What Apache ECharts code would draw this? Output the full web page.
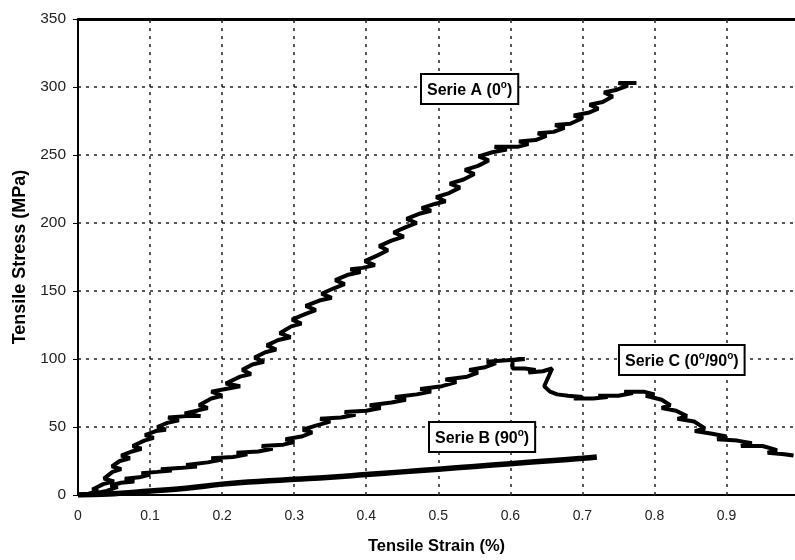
<!DOCTYPE html>
<html style="height: 100%">
<head>
    <meta charset="utf-8">
    <script type="text/javascript" src="https://cdn.jsdelivr.net/npm/echarts@6/dist/echarts.min.js"></script>
</head>
<body style="height: 100%; margin: 0; background: #fff">
<div id="container" style="height: 560px;width: 795px;position: absolute;top: 0;left: 0;"></div>
<script type="text/javascript">
    // strain (%), stress (MPa)
    var serieA = [[0,0],[0.015,1],[0.028,3],[0.02,4],[0.035,8],[0.05,10],[0.036,12],[0.048,17],[0.06,19],[0.047,21],
        [0.058,25],[0.072,27],[0.06,29],[0.075,32],[0.088,34],[0.076,36],[0.092,40],[0.105,42],[0.093,44],[0.108,47],
        [0.122,48],[0.11,50],[0.124,53],[0.14,55],[0.125,57],[0.15,58],[0.17,58],[0.148,60],[0.165,62],[0.18,64],
        [0.168,66],[0.185,71],[0.2,73],[0.185,76],[0.205,78],[0.225,80],[0.205,82],[0.225,87],[0.24,89],[0.228,92],
        [0.242,96],[0.258,98],[0.245,101],[0.26,105],[0.275,107],[0.262,110],[0.278,114],[0.295,116],[0.28,119],[0.296,124],
        [0.31,126],[0.297,129],[0.315,133],[0.33,136],[0.316,139],[0.335,143],[0.352,145],[0.338,148],[0.355,152],[0.37,155],
        [0.357,158],[0.375,162],[0.392,164],[0.378,166],[0.395,167],[0.412,169],[0.398,172],[0.415,176],[0.43,180],[0.418,183],
        [0.435,187],[0.452,190],[0.438,193],[0.455,197],[0.47,200],[0.456,203],[0.475,207],[0.49,209],[0.477,211],[0.495,214],
        [0.51,216],[0.497,219],[0.515,222],[0.53,226],[0.516,229],[0.535,232],[0.55,236],[0.537,239],[0.555,242],[0.57,246],
        [0.556,249],[0.575,252],[0.595,254],[0.578,256],[0.61,256],[0.625,258],[0.612,260],[0.635,261],[0.65,264],[0.638,266],
        [0.66,267],[0.675,270],[0.662,272],[0.683,273],[0.7,277],[0.688,279],[0.708,281],[0.722,284],[0.71,287],[0.728,289],
        [0.742,293],[0.73,296],[0.748,298],[0.763,301],[0.75,303],[0.775,303]];
    var serieB = [[0,0],[0.05,1],[0.1,3],[0.15,5],[0.2,8],[0.25,10],[0.3,11.5],[0.35,13],[0.4,15],[0.45,17],
        [0.5,19],[0.55,21],[0.6,23],[0.65,25],[0.7,27],[0.72,28]];
    var serieC = [[0,0],[0.02,1],[0.04,3],[0.055,6],[0.045,7],[0.06,9],[0.078,10],[0.065,12],[0.085,13],[0.1,15],
        [0.088,16],[0.11,17],[0.13,18],[0.115,19],[0.145,20],[0.165,21],[0.15,22],[0.18,24],[0.2,26],[0.185,27],
        [0.215,28],[0.235,30],[0.22,31],[0.25,32],[0.27,34],[0.255,36],[0.285,37],[0.3,39],[0.288,41],[0.31,43],
        [0.325,46],[0.312,48],[0.33,51],[0.35,54],[0.336,56],[0.365,57],[0.385,59],[0.37,61],[0.4,62],[0.42,64],
        [0.405,66],[0.435,68],[0.455,70],[0.44,72],[0.47,74],[0.49,76],[0.475,78],[0.505,80],[0.525,83],[0.51,85],
        [0.54,87],[0.555,90],[0.543,92],[0.565,94],[0.58,97],[0.567,98],[0.595,99],[0.62,100],[0.603,99],[0.603,93],
        [0.62,93],[0.635,92],[0.625,90],[0.645,91],[0.658,93],[0.647,80],[0.655,76],[0.665,74],[0.68,73],[0.7,72],
        [0.688,71],[0.715,71],[0.735,72],[0.722,73],[0.75,73],[0.77,75],[0.758,76],[0.785,76],[0.8,74],[0.788,73],
        [0.81,70],[0.822,66],[0.81,64],[0.83,62],[0.845,58],[0.832,56],[0.855,54],[0.87,49],[0.856,47],[0.88,45],
        [0.9,43],[0.887,41],[0.915,40],[0.935,38],[0.92,36],[0.95,36],[0.97,33],[0.957,31],[0.98,30],[0.993,29]];
    var xTicks = [0.1, 0.2, 0.3, 0.4, 0.5, 0.6, 0.7, 0.8, 0.9];
    var yTicks = [0, 50, 100, 150, 200, 250, 300, 350];

    var dom = document.getElementById("container");
    var myChart = echarts.init(dom, null, {renderer: 'canvas'});
    var font = 'Liberation Sans, Arial, sans-serif';
    var gridLine = {color: '#222', type: [3, 5], width: 1.5};
    var boxStyle = function (parts) {
        return {
            text: parts,
            font: 'bold 16px ' + font,
            fill: '#000',
            backgroundColor: '#fff',
            borderColor: '#000',
            borderWidth: 2,
            padding: [5, 5, 4, 5],
            rich: {
                t: {fontSize: 16, fontWeight: 'bold', fontFamily: font, lineHeight: 19, verticalAlign: 'bottom'},
                s: {fontSize: 10, fontWeight: 'bold', fontFamily: font, lineHeight: 19, verticalAlign: 'top'}
            }
        };
    };
    var option = {
        animation: false,
        backgroundColor: '#fff',
        grid: {left: 78, top: 19, right: 0, bottom: 65},
        xAxis: [{
            type: 'value',
            min: 0,
            max: 0.995,
            interval: 0.1,
            name: 'Tensile Strain (%)',
            nameLocation: 'middle',
            nameGap: 43,
            nameTextStyle: {fontFamily: font, fontSize: 16.5, fontWeight: 'bold', color: '#000'},
            axisLine: {lineStyle: {color: '#000', width: 2}},
            axisTick: {show: false},
            axisLabel: {fontFamily: font, fontSize: 14, color: '#222', margin: 14, showMaxLabel: false},
            splitLine: {show: false}
        }, {
            type: 'value',
            position: 'top',
            min: 0,
            max: 0.995,
            axisLine: {show: true, lineStyle: {color: '#000', width: 3}},
            axisTick: {show: false},
            axisLabel: {show: false},
            splitLine: {show: false}
        }],
        yAxis: {
            type: 'value',
            min: yTicks[0],
            max: yTicks[yTicks.length - 1],
            interval: 50,
            name: 'Tensile Stress (MPa)',
            nameLocation: 'middle',
            nameGap: 46,
            nameTextStyle: {fontFamily: font, fontSize: 18, fontWeight: 'bold', color: '#000'},
            axisLine: {show: true, lineStyle: {color: '#000', width: 2}},
            axisTick: {show: true, length: 5, lineStyle: {color: '#000'}},
            axisLabel: {fontFamily: font, fontSize: 15.5, color: '#222', margin: 12},
            splitLine: {show: true, lineStyle: gridLine}
        },
        series: [
            {name: 'Serie A', type: 'line', data: serieA, showSymbol: false, symbol: 'none', z: 3,
                lineStyle: {color: '#000', width: 4}},
            {name: 'Serie B', type: 'line', data: serieB, showSymbol: false, symbol: 'none', smooth: true, z: 3,
                lineStyle: {color: '#000', width: 5.5},
                markLine: {
                    silent: true,
                    symbol: 'none',
                    z: 1,
                    label: {show: false},
                    lineStyle: gridLine,
                    data: xTicks.map(function (v) { return {xAxis: v}; })
                }},
            {name: 'Serie C', type: 'line', data: serieC, showSymbol: false, symbol: 'none', z: 3,
                lineStyle: {color: '#000', width: 4}}
        ],
        graphic: [
            {type: 'text', left: 420, top: 73, z: 100, style: boxStyle('{t|Serie A (0}{s|o}{t|)}')},
            {type: 'text', left: 428, top: 421, z: 100, style: boxStyle('{t|Serie B (90}{s|o}{t|)}')},
            {type: 'text', left: 618, top: 344, z: 100, style: boxStyle('{t|Serie C (0}{s|o}{t|/90}{s|o}{t|)}')}
        ]
    };
    myChart.setOption(option, true);
</script>
</body>
</html>
